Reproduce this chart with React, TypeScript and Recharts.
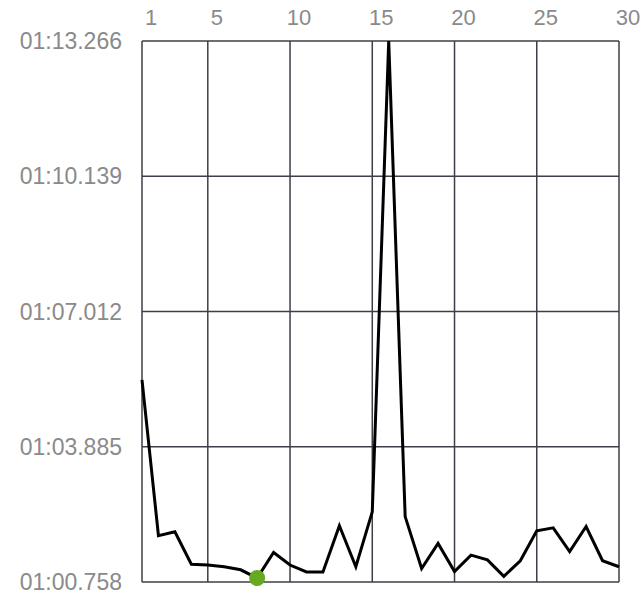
import React from 'react';
import { ComposedChart, Line, Scatter, XAxis, YAxis, CartesianGrid } from 'recharts';

// lap numbers and lap times in seconds
const laps = [1, 2, 3, 4, 5, 6, 7, 8, 9, 10, 11, 12, 13, 14, 15, 16, 17, 18, 19, 20, 21, 22, 23, 24, 25, 26, 27, 28, 29, 30];
const lapTimes = [
    65.43, 61.83, 61.92, 61.17, 61.15, 61.11, 61.04, 60.85, 61.44, 61.15,
    60.99, 60.99, 62.06, 61.11, 62.38, 73.266, 62.27, 61.07, 61.65, 61.0,
    61.38, 61.27, 60.89, 61.25, 61.94, 62.01, 61.46, 62.04, 61.25, 61.11,
];
const xTicks = [1, 5, 10, 15, 20, 25, 30];
const yTicks = [60.758, 63.885, 67.012, 70.139, 73.266];

const data = laps.map((lap, i) => ({ lap, time: lapTimes[i] }));
const bestTime = Math.min(...lapTimes);
const best = data.filter(d => d.time === bestTime);

const formatTime = (v: number) => {
    const min = Math.floor(v / 60);
    const sec = v - min * 60;
    const secStr = sec.toFixed(3).padStart(6, '0');
    return `${String(min).padStart(2, '0')}:${secStr}`;
};

const TopTick = ({ x, y, payload }: any) => (
    <text x={x + 9} y={y - 8} textAnchor="middle" fill="#8a8a8a" fontSize={22} fontFamily="Liberation Sans, Arial, sans-serif">
        {payload.value}
    </text>
);

const LeftTick = ({ x, y, payload }: any) => (
    <text x={x - 12} y={y + 8} textAnchor="end" fill="#8a8a8a" fontSize={23} fontFamily="Liberation Sans, Arial, sans-serif">
        {formatTime(payload.value)}
    </text>
);

export default function App() {
    return (
        <div>
            <style>{'body{margin:0}'}</style>
            <ComposedChart
                width={642}
                height={598}
                data={data}
                margin={{ top: 11, right: 23, bottom: 16, left: 0 }}
            >
                <CartesianGrid stroke="#3c3f47" strokeWidth={1.5} />
                <XAxis
                    dataKey="lap"
                    type="number"
                    orientation="top"
                    domain={[1, 30]}
                    ticks={xTicks}
                    height={30}
                    axisLine={false}
                    tickLine={false}
                    tick={<TopTick />}
                    interval={0}
                />
                <YAxis
                    type="number"
                    domain={[60.758, 73.266]}
                    ticks={yTicks}
                    width={142}
                    axisLine={false}
                    tickLine={false}
                    tick={<LeftTick />}
                    interval={0}
                />
                <Line
                    dataKey="time"
                    type="linear"
                    stroke="#000000"
                    strokeWidth={3}
                    dot={false}
                    isAnimationActive={false}
                />
                <Scatter
                    data={best}
                    dataKey="time"
                    fill="#66aa22"
                    shape={(p: any) => <circle cx={p.cx} cy={p.cy} r={8} fill="#66aa22" />}
                    isAnimationActive={false}
                />
            </ComposedChart>
        </div>
    );
}
